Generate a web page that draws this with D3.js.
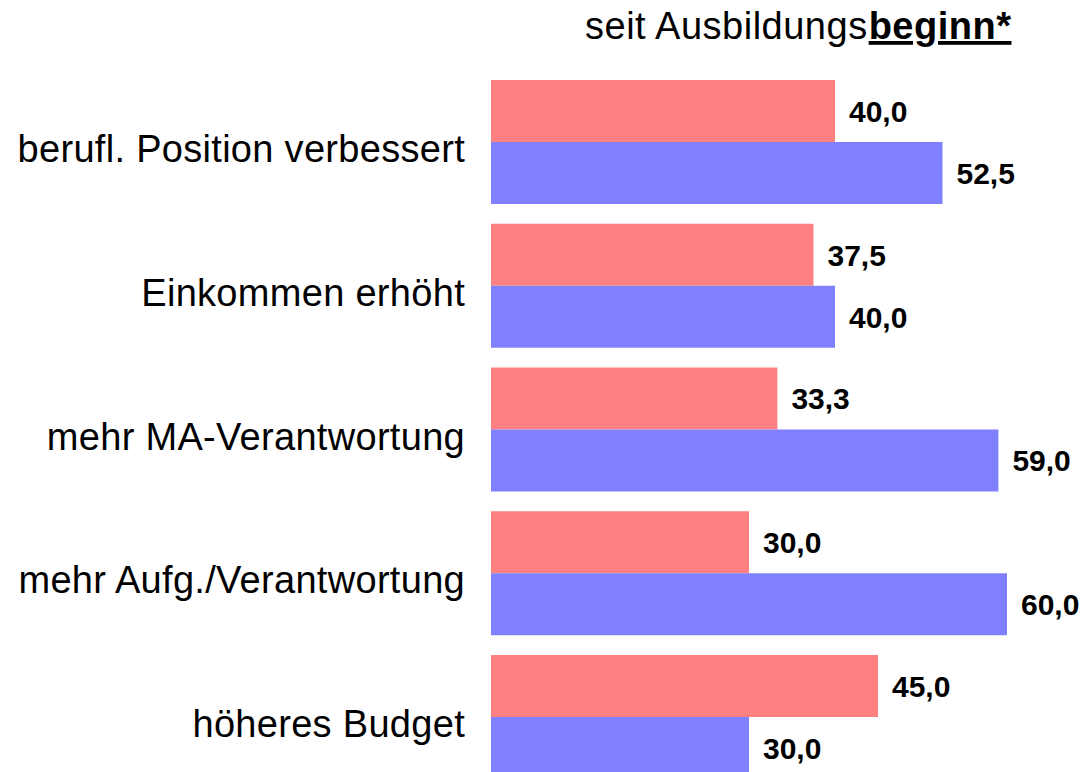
<!DOCTYPE html>
<html>
<head>
<meta charset="utf-8">
<script src="https://cdn.jsdelivr.net/npm/d3@7"></script>
<style>
  html, body { margin: 0; padding: 0; background: #fff; }
  svg { display: block; }
  text { font-family: "Liberation Sans", Arial, sans-serif; fill: #000; }
</style>
</head>
<body>
<svg id="chart" width="1082" height="772"></svg>
<script>
const categories = [
  "berufl. Position verbessert",
  "Einkommen erhöht",
  "mehr MA-Verantwortung",
  "mehr Aufg./Verantwortung",
  "höheres Budget"
];
const seriesNames = ["rot", "blau"];
const seriesRed = [40.0, 37.5, 33.3, 30.0, 45.0];
const seriesBlue = [52.5, 40.0, 59.0, 60.0, 30.0];
const titleParts = ["seit Ausbildungs", "beginn*"];

const colors = { rot: "#FF8080", blau: "#8080FF" };

const svg = d3.select("#chart");

const x = d3.scaleLinear().domain([0, 60]).range([491, 1007]);
const y = d3.scaleBand().domain(categories).range([80, 779]).paddingInner(0.1375).paddingOuter(0);
const ySub = d3.scaleBand().domain(seriesNames).range([0, y.bandwidth()]);

const data = categories.map((c, i) => ({
  cat: c,
  values: [
    { key: "rot", value: seriesRed[i] },
    { key: "blau", value: seriesBlue[i] }
  ]
}));

const fmt = v => d3.format(".1f")(v).replace(".", ",");

const groups = svg.append("g").selectAll("g")
  .data(data).join("g")
  .attr("transform", d => `translate(0,${y(d.cat)})`);

groups.selectAll("rect")
  .data(d => d.values).join("rect")
  .attr("x", x(0))
  .attr("y", d => ySub(d.key))
  .attr("width", d => x(d.value) - x(0))
  .attr("height", ySub.bandwidth())
  .attr("fill", d => colors[d.key]);

groups.selectAll("text.val")
  .data(d => d.values).join("text")
  .attr("class", "val")
  .attr("x", d => x(d.value) + 14)
  .attr("y", d => ySub(d.key) + ySub.bandwidth() / 2 + 11)
  .attr("font-size", 30)
  .attr("font-weight", "bold")
  .text(d => fmt(d.value));

// category labels
svg.append("g").selectAll("text")
  .data(categories).join("text")
  .attr("x", 465)
  .attr("y", d => y(d) + y.bandwidth() / 2 + 20)
  .attr("text-anchor", "end")
  .attr("font-size", 38)
  .attr("letter-spacing", 0.3)
  .text(d => d);

// title
const title = svg.append("text")
  .attr("x", 585)
  .attr("y", 39)
  .attr("text-anchor", "start")
  .attr("font-size", 38);
title.append("tspan")
  .attr("letter-spacing", 0.5)
  .text(titleParts[0]);
title.append("tspan")
  .attr("font-weight", "bold")
  .attr("text-decoration", "underline")
  .attr("letter-spacing", 0.5)
  .attr("dx", 1)
  .text(titleParts[1]);
</script>
</body>
</html>
